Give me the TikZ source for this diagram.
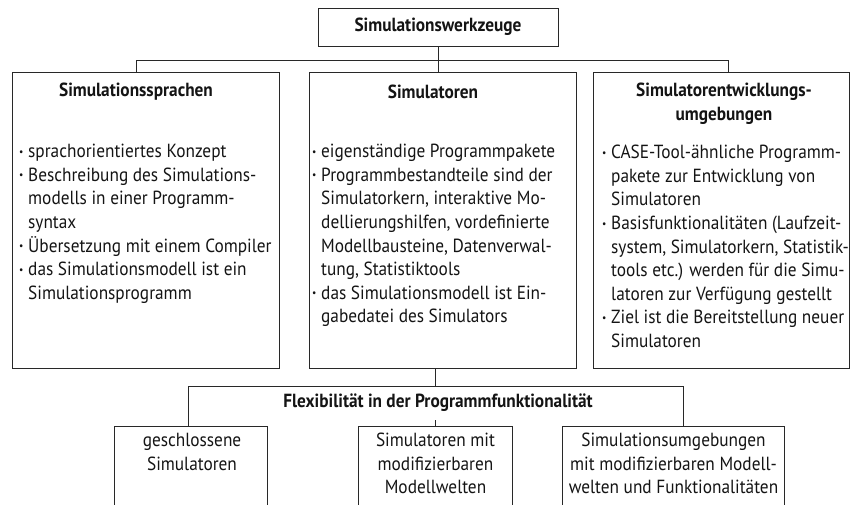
\documentclass[tikz,border=0pt]{standalone}
\usepackage{fontspec}
\setmainfont{PT Sans}[FakeStretch=0.91]
\definecolor{linec}{RGB}{40,40,40}
\definecolor{txtc}{RGB}{20,20,20}
\newcommand\fs{\fontsize{19}{23.6}\selectfont}
\newcommand\bul{\makebox[9pt][l]{\raisebox{0.25ex}{\scalebox{0.55}{\textbullet}}}}
\newcommand\ind{\hspace*{9pt}}
\tikzset{
  frame/.style={draw=linec, line width=0.9pt, inner sep=0pt},
  openframe/.style={draw=none, inner sep=0pt},
  ttl/.style={font=\fs\bfseries, inner sep=0pt, align=center, text=txtc},
  body/.style={font=\fs, inner sep=0pt, align=left, anchor=north west, text=txtc},
  ctext/.style={font=\fs, inner sep=0pt, align=center, anchor=north, text=txtc},
  conn/.style={draw=linec, line width=0.9pt},
}
\begin{document}
\begin{tikzpicture}[x=1pt,y=-1pt]
\useasboundingbox (0,0) rectangle (850,504);
% top
\node[frame, minimum width=240pt, minimum height=38pt] (top) at (438,27) {};
\node[ttl] (toptxt) at (top.center) {Simulationswerkzeuge};
% three boxes
\node[frame, minimum width=267pt, minimum height=296pt] (left) at (145.5,220) {};
\node[frame, minimum width=267pt, minimum height=296pt] (mid) at (442.5,220) {};
\node[frame, minimum width=256pt, minimum height=296pt] (right) at (721,220) {};
\node[ttl] (lefttl) at (136,92) {Simulationssprachen};
\node[ttl] (midttl) at (433,92) {Simulatoren};
\node[ttl] (rightttl) at (724,104) {Simulatorentwicklungs-\\umgebungen};
\node[body] (leftbody) at (19,144) {\bul sprachorientiertes Konzept\\
\bul Beschreibung des Simulations-\\
\ind modells in einer Programm-\\
\ind syntax\\
\bul Übersetzung mit einem Compiler\\
\bul das Simulationsmodell ist ein\\
\ind Simulationsprogramm};
\node[body] (midbody) at (312,144) {\bul eigenständige Programmpakete\\
\bul Programmbestandteile sind der\\
\ind Simulatorkern, interaktive Mo-\\
\ind dellierungshilfen, vordefinierte\\
\ind Modellbausteine, Datenverwal-\\
\ind tung, Statistiktools\\
\bul das Simulationsmodell ist Ein-\\
\ind gabedatei des Simulators};
\node[body] (rightbody) at (602,145) {\bul CASE-Tool-ähnliche Programm-\\
\ind pakete zur Entwicklung von\\
\ind Simulatoren\\
\bul Basisfunktionalitäten (Laufzeit-\\
\ind system, Simulatorkern, Statistik-\\
\ind tools etc.) werden für die Simu-\\
\ind latoren zur Verfügung gestellt\\
\bul Ziel ist die Bereitstellung neuer\\
\ind Simulatoren};
% upper connectors
\coordinate (hl) at (136,60);
\coordinate (hr) at (728,60);
\draw[conn] (top.south) -- (top.south |- mid.north);
\draw[conn] (hl |- left.north) -- (hl) -- (hr) -- (hr |- right.north);
% flex
\node[ttl, inner ysep=8pt] (flex) at (438,403) {Flexibilität in der Programmfunktionalität};
\coordinate (bl) at (188,386);
\coordinate (br) at (683,386);
\coordinate (fc) at (435,386);
% bottom boxes (open at the lower edge)
\node[openframe, minimum width=152pt, minimum height=78pt] (b1) at (191,466) {};
\node[openframe, minimum width=153pt, minimum height=78pt] (b2) at (435.5,466) {};
\node[openframe, minimum width=221pt, minimum height=78pt] (b3) at (673.5,466) {};
\draw[conn] (b1.south west) -- (b1.north west) -- (b1.north east) -- (b1.south east);
\draw[conn] (b2.south west) -- (b2.north west) -- (b2.north east) -- (b2.south east);
\draw[conn] (b3.south west) -- (b3.north west) -- (b3.north east) -- (b3.south east);
\node[ctext] (b1txt) at (192,433) {geschlossene\\Simulatoren};
\node[ctext] (b2txt) at (435.5,433) {Simulatoren mit\\modifizierbaren\\Modellwelten};
\node[ctext] (b3txt) at (673.5,433) {Simulationsumgebungen\\mit modifizierbaren Modell-\\welten und Funktionalitäten};
\draw[conn] (fc |- mid.south) -- (fc);
\draw[conn] (bl |- b1.north) -- (bl) -- (br) -- (br |- b3.north);
\draw[conn] (flex.south -| b2.north) -- (b2.north);
\end{tikzpicture}
\end{document}
